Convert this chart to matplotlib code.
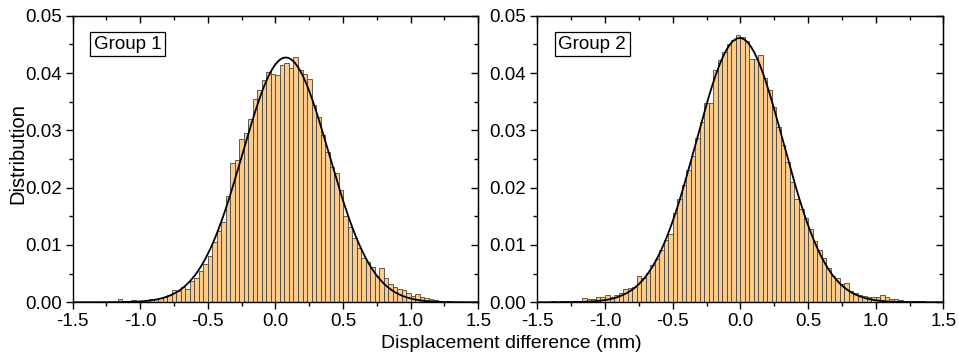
import numpy as np
import matplotlib.pyplot as plt

plt.rcParams['font.family'] = ['Liberation Sans', 'DejaVu Sans']

# histogram bins: 90 bins of width 1/30 from -1.5 to 1.5
bin_start = -1.5
bin_width = 1 / 30

group1 = [
    0, 0, 0, 0, 0, 0, 0, 0.0001, 0, 0.0001,
    0.0005, 0.0002, 0.0002, 0.0004, 0.0003, 0.0003, 0.0004, 0.0005, 0.0005, 0.0007,
    0.0009, 0.0013, 0.0022, 0.0020, 0.0027, 0.0024, 0.0037, 0.0043, 0.0055, 0.0066,
    0.0080, 0.0105, 0.0125, 0.0140, 0.0186, 0.0243, 0.0249, 0.0285, 0.0295, 0.0320,
    0.0354, 0.0370, 0.0387, 0.0401, 0.0398, 0.0397, 0.0414, 0.0418, 0.0408, 0.0428,
    0.0406, 0.0398, 0.0390, 0.0344, 0.0324, 0.0292, 0.0262, 0.0236, 0.0225, 0.0196,
    0.0150, 0.0132, 0.0113, 0.0094, 0.0078, 0.0071, 0.0062, 0.0045, 0.0059, 0.0042,
    0.0032, 0.0027, 0.0024, 0.0021, 0.0017, 0.0011, 0.0015, 0.0010, 0.0007, 0.0005,
    0.0004, 0.0002, 0.0001, 0.0003, 0.0001, 0, 0, 0, 0, 0,
]

group2 = [
    0.0001, 0.0001, 0.0001, 0.0002, 0.0001, 0.0002, 0.0002, 0.0002, 0.0003, 0.0003,
    0.0007, 0.0005, 0.0006, 0.0009, 0.0010, 0.0013, 0.0009, 0.0012, 0.0016, 0.0023,
    0.0025, 0.0027, 0.0046, 0.0042, 0.0051, 0.0065, 0.0076, 0.0092, 0.0108, 0.0120,
    0.0155, 0.0180, 0.0205, 0.0230, 0.0255, 0.0286, 0.0315, 0.0347, 0.0347, 0.0405,
    0.0423, 0.0437, 0.0450, 0.0457, 0.0466, 0.0462, 0.0455, 0.0424, 0.0424, 0.0431,
    0.0392, 0.0370, 0.0341, 0.0306, 0.0275, 0.0245, 0.0209, 0.0180, 0.0163, 0.0147,
    0.0127, 0.0107, 0.0091, 0.0077, 0.0059, 0.0045, 0.0043, 0.0032, 0.0033, 0.0020,
    0.0017, 0.0013, 0.0011, 0.0010, 0.0010, 0.0009, 0.0012, 0.0010, 0.0006, 0.0005,
    0.0004, 0.0003, 0.0002, 0.0002, 0.0003, 0.0002, 0.0001, 0.0001, 0.0001, 0.0001,
]

# gaussian fit parameters (mean, sigma, peak height)
fit1 = (0.076, 0.320, 0.0427)
fit2 = (-0.005, 0.322, 0.0461)

labels = ['Group 1', 'Group 2']

fig = plt.figure(figsize=(9.59, 3.58), dpi=100)
ax1 = fig.add_axes([0.0758, 0.1556, 0.4229, 0.8006])
ax2 = fig.add_axes([0.5603, 0.1556, 0.4234, 0.8006])

xs = np.linspace(-1.5, 1.5, 600)
fs = 13.5

for ax, vals, fit, lab in zip([ax1, ax2], [group1, group2], [fit1, fit2], labels):
    left = bin_start + np.arange(len(vals)) * bin_width
    ax.bar(left, vals, width=bin_width, align='edge', color='#FDCB8A',
           edgecolor='#444444', linewidth=0.6)
    mu, sd, amp = fit
    ax.plot(xs, amp * np.exp(-(xs - mu) ** 2 / (2 * sd ** 2)), color='black', lw=1.3)

    ax.set_xlim(-1.5, 1.5)
    ax.set_ylim(0, 0.05)
    ax.set_xticks(np.arange(-1.5, 1.51, 0.5))
    ax.set_xticks(np.arange(-1.5, 1.51, 0.25), minor=True)
    ax.set_yticks(np.arange(0, 0.051, 0.01))
    ax.set_yticks(np.arange(0, 0.051, 0.005), minor=True)
    ax.set_xticklabels(['%.1f' % v for v in np.arange(-1.5, 1.51, 0.5)])
    ax.set_yticklabels(['%.2f' % v for v in np.arange(0, 0.051, 0.01)])
    ax.tick_params(which='both', direction='out', labelsize=fs, width=1, pad=3)
    ax.tick_params(which='major', length=5)
    ax.tick_params(which='minor', length=3)
    for s in ax.spines.values():
        s.set_linewidth(1)

    # mirrored ticks on top and right, pointing in
    top = ax.secondary_xaxis('top')
    top.set_xticks(np.arange(-1.5, 1.51, 0.5))
    top.set_xticks(np.arange(-1.5, 1.51, 0.25), minor=True)
    top.tick_params(which='both', direction='in', labeltop=False, width=1)
    top.tick_params(which='major', length=5)
    top.tick_params(which='minor', length=3)
    right = ax.secondary_yaxis('right')
    right.set_yticks(np.arange(0, 0.051, 0.01))
    right.set_yticks(np.arange(0, 0.051, 0.005), minor=True)
    right.tick_params(which='both', direction='in', labelright=False, width=1)
    right.tick_params(which='major', length=5)
    right.tick_params(which='minor', length=3)

    ax.text(0.052, 0.93, lab, transform=ax.transAxes, fontsize=fs, va='top', ha='left',
            bbox=dict(boxstyle='square,pad=0.2', fc='white', ec='black', lw=0.9))

fig.text(0.5334, 0.04, 'Displacement difference (mm)', fontsize=14, ha='center', va='center')
fig.text(0.019, 0.57, 'Distribution', fontsize=14.5, rotation=90, ha='center', va='center')

fig.savefig('out.png', dpi=100)
